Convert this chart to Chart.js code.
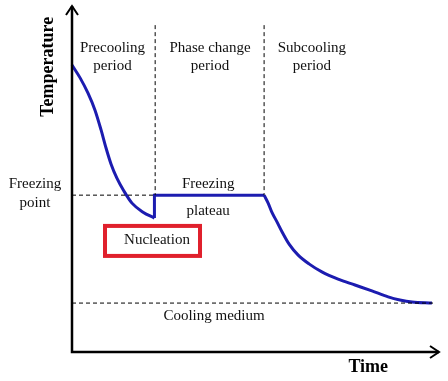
<!DOCTYPE html>
<html>
<head>
<meta charset="utf-8">
<script src="https://cdn.jsdelivr.net/npm/chart.js@4/dist/chart.umd.min.js"></script>
<style>
  html, body { margin: 0; padding: 0; background: #fff; }
  canvas { display: block; }
</style>
</head>
<body>
<canvas id="freezeChart" width="448" height="381"></canvas>
<script>
// curve values (time, temperature) in arbitrary units 0..100
const precoolTime = [0, 2.2, 4.35, 6.25, 7.9, 9.25, 10.6, 12.2, 14.1, 16.3, 19.3, 22.4];
const precoolTemp = [82.7, 79.0, 74.6, 69.7, 64.0, 58.8, 54.2, 50.1, 46.4, 42.9, 40.3, 38.6];

const plateauTime = [22.4, 22.4, 52.2];
const plateauTemp = [38.6, 45.2, 45.2];

const subcoolTime = [52.2, 53.3, 54.3, 55.7, 57.1, 59.0, 61.4, 64.4, 67.9, 72.3, 76.9, 81.5, 85.9, 89.1, 92.4, 97.8];
const subcoolTemp = [45.2, 42.9, 40.3, 37.5, 34.6, 31.1, 28.0, 25.4, 23.1, 21.0, 19.3, 17.6, 15.9, 15.0, 14.4, 14.1];

// reference levels
const freezingPoint = 45.2;
const coolingMedium = 14.1;
const periodBounds = [22.6, 52.2];
const periodTop = 94.2;

const pts = (xs, ys) => xs.map((x, i) => ({ x: x, y: ys[i] }));

// text labels, placed in data units
const labels = [
    { text: "Precooling", x: 11, y: 87.6 },
    { text: "period", x: 11, y: 82.3 },
    { text: "Phase change", x: 37.5, y: 87.6 },
    { text: "period", x: 37.5, y: 82.3 },
    { text: "Subcooling", x: 65.2, y: 87.6 },
    { text: "period", x: 65.2, y: 82.3 },
    { text: "Freezing", x: 37, y: 48.5 },
    { text: "plateau", x: 37, y: 40.6 },
    { text: "Nucleation", x: 23.1, y: 32.3 },
    { text: "Cooling medium", x: 38.6, y: 10.4 }
];

const blue = '#1c1cb0';
const dashStyle = { borderColor: '#000', borderWidth: 1, borderDash: [4, 3], pointRadius: 0, tension: 0, clip: false };

const overlay = {
    id: 'overlay',
    afterDraw(chart) {
        const ctx = chart.ctx;
        const a = chart.chartArea;
        const xs = chart.scales.x, ys = chart.scales.y;
        ctx.save();

        // axes with open arrow heads
        ctx.strokeStyle = '#000';
        ctx.lineWidth = 2.5;
        ctx.beginPath();
        ctx.moveTo(a.left, a.top + 1);
        ctx.lineTo(a.left, a.bottom);
        ctx.lineTo(a.right - 1, a.bottom);
        ctx.stroke();
        ctx.lineWidth = 2;
        ctx.beginPath();
        ctx.moveTo(a.left - 6, a.top + 10);
        ctx.lineTo(a.left, a.top + 1);
        ctx.lineTo(a.left + 6, a.top + 10);
        ctx.moveTo(a.right - 10, a.bottom - 6);
        ctx.lineTo(a.right - 1, a.bottom);
        ctx.lineTo(a.right - 10, a.bottom + 6);
        ctx.stroke();

        // labels
        ctx.fillStyle = '#111';
        ctx.textAlign = 'center';
        ctx.textBaseline = 'middle';
        ctx.font = '15px "Liberation Serif", "Times New Roman", serif';
        labels.forEach(l => ctx.fillText(l.text, xs.getPixelForValue(l.x), ys.getPixelForValue(l.y)));

        ctx.fillText("Freezing", 35, ys.getPixelForValue(freezingPoint) - 11);
        ctx.fillText("point", 35, ys.getPixelForValue(freezingPoint) + 8);

        // red box around Nucleation
        const nx = xs.getPixelForValue(23.1), ny = ys.getPixelForValue(32.3);
        ctx.strokeStyle = '#e0202c';
        ctx.lineWidth = 4;
        ctx.strokeRect(nx - 52, ny - 14, 95, 30);

        // axis titles
        ctx.fillStyle = '#000';
        ctx.font = 'bold 18px "Liberation Serif", "Times New Roman", serif';
        ctx.fillText("Time", xs.getPixelForValue(80.5), a.bottom + 15);
        ctx.translate(48, ys.getPixelForValue(82.2));
        ctx.rotate(-Math.PI / 2);
        ctx.fillText("Temperature", 0, 0);
        ctx.restore();
    }
};

new Chart(document.getElementById('freezeChart'), {
    type: 'line',
    data: {
        datasets: [
            Object.assign({ data: pts([periodBounds[0], periodBounds[0]], [periodTop, freezingPoint]) }, dashStyle),
            Object.assign({ data: pts([periodBounds[1], periodBounds[1]], [periodTop, freezingPoint]) }, dashStyle),
            Object.assign({ data: pts([0, periodBounds[0]], [freezingPoint, freezingPoint]) }, dashStyle),
            Object.assign({ data: pts([0, 98.2], [coolingMedium, coolingMedium]) }, dashStyle),
            { data: pts(precoolTime, precoolTemp), borderColor: blue, borderWidth: 3, pointRadius: 0,
              cubicInterpolationMode: 'monotone', clip: false },
            { data: pts(plateauTime, plateauTemp), borderColor: blue, borderWidth: 3, pointRadius: 0,
              tension: 0, clip: false },
            { data: pts(subcoolTime, subcoolTemp), borderColor: blue, borderWidth: 3, pointRadius: 0,
              cubicInterpolationMode: 'monotone', clip: false }
        ]
    },
    options: {
        responsive: false,
        animation: false,
        layout: { padding: { left: 72, right: 8, top: 5, bottom: 29 } },
        plugins: { legend: { display: false }, tooltip: { enabled: false } },
        scales: {
            x: { type: 'linear', min: 0, max: 100, display: false },
            y: { type: 'linear', min: 0, max: 100, display: false }
        }
    },
    plugins: [overlay]
});
</script>
</body>
</html>
